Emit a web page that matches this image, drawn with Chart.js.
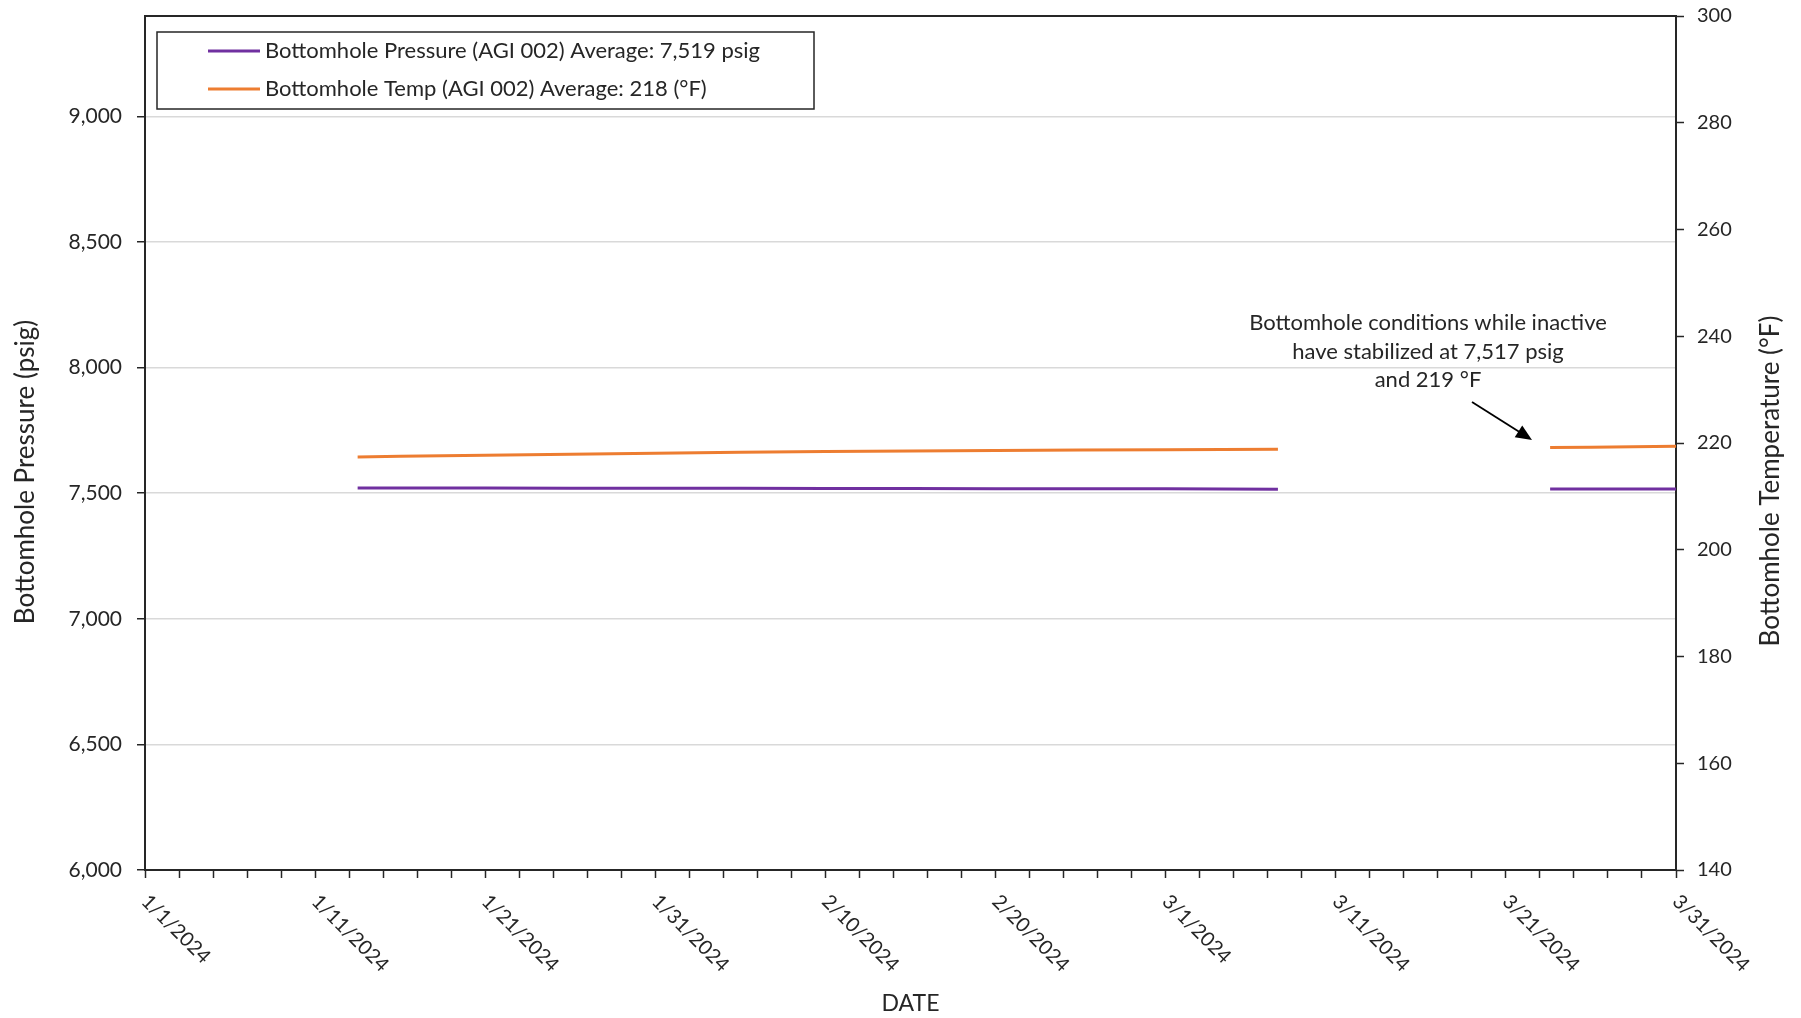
<!DOCTYPE html>
<html>
<head>
<meta charset="utf-8">
<script src="https://cdn.jsdelivr.net/npm/chart.js@4.4.1/dist/chart.umd.min.js"></script>
<style>
    html, body { margin: 0; padding: 0; background: #fff; }
    #wrap { width: 1801px; height: 1018px; }
</style>
</head>
<body>
<div id="wrap"><canvas id="bhChart" width="1801" height="1018"></canvas></div>
<script>
// ============================================================
// Bottomhole pressure / temperature — AGI 002, Q1 2024
// ============================================================

// days counted from 1/1/2024 (day 0) to 3/31/2024 (day 90)
const seg1Days      = [12.5, 15, 20, 25, 30, 35, 40, 45, 50, 55, 60, 66.6];
const seg2Days      = [82.6, 85, 90];

const pressureSeg1  = [7521, 7521, 7521, 7520, 7520, 7520, 7519, 7519, 7518, 7518, 7518, 7516];
const pressureSeg2  = [7517, 7517, 7517];

const tempSeg1      = [217.4, 217.5, 217.7, 217.9, 218.1, 218.25, 218.4, 218.5, 218.6, 218.7, 218.75, 218.85];
const tempSeg2      = [219.15, 219.2, 219.4];

const seriesLabels  = [
    'Bottomhole Pressure (AGI 002) Average: 7,519 psig',
    'Bottomhole Temp (AGI 002) Average: 218 (°F)'
];
const seriesColors  = ['#7030A0', '#ED7D31'];

const xLabelDays    = [0, 10, 20, 30, 40, 50, 60, 70, 80, 90];
const xTickDays     = [];
for (let d = 0; d <= 90; d += 2) xTickDays.push(d);
const pressureTicks = [6000, 6500, 7000, 7500, 8000, 8500, 9000];
const tempTicks     = [140, 160, 180, 200, 220, 240, 260, 280, 300];

const noteLines = [
    'Bottomhole conditions while inactive',
    'have stabilized at 7,517 psig',
    'and 219 °F'
];

const FONT = 'Lato, "Open Sans", sans-serif';
const INK  = '#262626';

// date label for a day offset from 1/1/2024
const dayLabel = d => {
    const dt = new Date(2024, 0, 1 + d);
    return (dt.getMonth() + 1) + '/' + dt.getDate() + '/' + dt.getFullYear();
};

// join two segments with a gap
const buildPoints = (vals1, vals2) => [
    ...seg1Days.map((d, i) => ({ x: d, y: vals1[i] })),
    { x: 75, y: null },
    ...seg2Days.map((d, i) => ({ x: d, y: vals2[i] }))
];

// Box, legend, rotated date labels, axis titles, annotation
const decorPlugin = {
    id: 'decor',
    afterDraw(chart) {
        const { ctx, chartArea: ca, scales } = chart;
        ctx.save();

        // top frame line
        ctx.strokeStyle = INK;
        ctx.lineWidth = 2;
        ctx.beginPath();
        ctx.moveTo(ca.left, ca.top);
        ctx.lineTo(ca.right, ca.top);
        ctx.stroke();

        // x labels, rotated 45° clockwise
        ctx.fillStyle = INK;
        ctx.font = '20px ' + FONT;
        ctx.textAlign = 'left';
        ctx.textBaseline = 'top';
        xLabelDays.forEach(d => {
            const x = scales.x.getPixelForValue(d);
            ctx.save();
            ctx.translate(x + 7, ca.bottom + 21);
            ctx.rotate(Math.PI / 4);
            ctx.fillText(dayLabel(d), 0, 0);
            ctx.restore();
        });

        // axis titles (both read bottom to top)
        ctx.font = '26px ' + FONT;
        ctx.textAlign = 'center';
        ctx.textBaseline = 'middle';
        [[26, 472, 'Bottomhole Pressure (psig)'], [1771, 481, 'Bottomhole Temperature (°F)']].forEach(([tx, ty, t]) => {
            ctx.save();
            ctx.translate(tx, ty);
            ctx.rotate(-Math.PI / 2);
            ctx.fillText(t, 0, 0);
            ctx.restore();
        });

        // legend box
        ctx.fillStyle = '#fff';
        ctx.fillRect(157, 32, 657, 77);
        ctx.strokeStyle = INK;
        ctx.lineWidth = 1.5;
        ctx.strokeRect(157, 32, 657, 77);
        ctx.font = '22px ' + FONT;
        ctx.textBaseline = 'middle';
        ctx.textAlign = 'left';
        chart.data.datasets.forEach((ds, i) => {
            const y = 51 + i * 38;
            ctx.strokeStyle = ds.borderColor;
            ctx.lineWidth = 3;
            ctx.beginPath();
            ctx.moveTo(208, y);
            ctx.lineTo(260, y);
            ctx.stroke();
            ctx.fillStyle = INK;
            ctx.fillText(ds.label, 265, y);
        });

        // annotation + arrow
        ctx.font = '22px ' + FONT;
        ctx.textAlign = 'center';
        noteLines.forEach((t, i) => ctx.fillText(t, 1428, 323 + i * 28.5));

        const ax0 = 1472, ay0 = 402, ax1 = 1532, ay1 = 440;
        const ang = Math.atan2(ay1 - ay0, ax1 - ax0);
        ctx.strokeStyle = '#000';
        ctx.lineWidth = 1.8;
        ctx.beginPath();
        ctx.moveTo(ax0, ay0);
        ctx.lineTo(ax1 - 12 * Math.cos(ang), ay1 - 12 * Math.sin(ang));
        ctx.stroke();
        ctx.fillStyle = '#000';
        ctx.beginPath();
        ctx.moveTo(ax1, ay1);
        ctx.lineTo(ax1 - 16 * Math.cos(ang) + 7 * Math.sin(ang), ay1 - 16 * Math.sin(ang) - 7 * Math.cos(ang));
        ctx.lineTo(ax1 - 16 * Math.cos(ang) - 7 * Math.sin(ang), ay1 - 16 * Math.sin(ang) + 7 * Math.cos(ang));
        ctx.closePath();
        ctx.fill();

        ctx.restore();
    }
};

Chart.defaults.font.family = FONT;
Chart.defaults.color = INK;

new Chart(document.getElementById('bhChart').getContext('2d'), {
    type: 'line',
    data: {
        datasets: [
            {
                label: seriesLabels[0],
                data: buildPoints(pressureSeg1, pressureSeg2),
                borderColor: seriesColors[0],
                borderWidth: 3,
                pointRadius: 0,
                spanGaps: false,
                yAxisID: 'y'
            },
            {
                label: seriesLabels[1],
                data: buildPoints(tempSeg1, tempSeg2),
                borderColor: seriesColors[1],
                borderWidth: 3,
                pointRadius: 0,
                spanGaps: false,
                yAxisID: 'y2'
            }
        ]
    },
    options: {
        responsive: false,
        animation: false,
        layout: { padding: { top: 16, left: 0, right: 0, bottom: 0 } },
        plugins: { legend: { display: false }, tooltip: { enabled: false } },
        scales: {
            x: {
                type: 'linear',
                min: 0,
                max: 90,
                afterBuildTicks: s => { s.ticks = xTickDays.map(v => ({ value: v })); },
                afterFit: s => { s.height = 148; s.paddingLeft = 0; s.paddingRight = 0; },
                ticks: { display: false },
                grid: { drawOnChartArea: false, drawTicks: true, tickLength: 8, tickColor: INK, tickWidth: 1.5 },
                border: { display: true, color: INK, width: 2 },
                title: { display: true, text: 'DATE', font: { size: 23 }, padding: { top: 0, bottom: 1 } }
            },
            y: {
                position: 'left',
                min: 6000,
                max: 9400,
                afterBuildTicks: s => { s.ticks = pressureTicks.map(v => ({ value: v })); },
                afterFit: s => { s.width = 145; s.paddingTop = 0; s.paddingBottom = 0; },
                ticks: { font: { size: 21 }, padding: 15, callback: v => v.toLocaleString('en-US') },
                grid: { color: '#d9d9d9', lineWidth: 1.5, tickLength: 8, tickColor: INK, tickWidth: 1.5 },
                border: { display: true, color: INK, width: 2 }
            },
            y2: {
                position: 'right',
                min: 140,
                max: 300,
                afterBuildTicks: s => { s.ticks = tempTicks.map(v => ({ value: v })); },
                afterFit: s => { s.width = 125; s.paddingTop = 0; s.paddingBottom = 0; },
                ticks: { font: { size: 20 }, padding: 13 },
                grid: { drawOnChartArea: false, tickLength: 8, tickColor: INK, tickWidth: 1.5 },
                border: { display: true, color: INK, width: 2 }
            }
        }
    },
    plugins: [decorPlugin]
});
</script>
</body>
</html>
